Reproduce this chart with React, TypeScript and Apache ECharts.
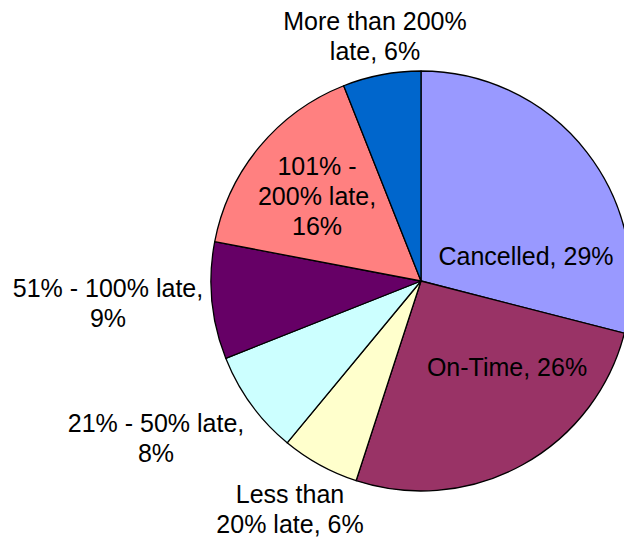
import React, { useEffect, useRef } from "react";
import * as echarts from "echarts";

const categories = [
  "Cancelled",
  "On-Time",
  "Less than 20% late",
  "21% - 50% late",
  "51% - 100% late",
  "101% - 200% late",
  "More than 200% late",
];
const values = [29, 26, 6, 8, 9, 16, 6];
const colors = ["#9999FF", "#993366", "#FFFFCC", "#CCFFFF", "#660066", "#FF8080", "#0066CC"];
const labelTemplates = [
  "Cancelled, {v}%",
  "On-Time, {v}%",
  "Less than\n20% late, {v}%",
  "21% - 50% late,\n{v}%",
  "51% - 100% late,\n{v}%",
  "101% -\n200% late,\n{v}%",
  "More than 200%\nlate, {v}%",
];
const labelX = [526, 507, 290, 156, 108, 317, 375];
const labelY = [256, 367, 509, 438, 303, 196, 36];

export default function App() {
  const ref = useRef<HTMLDivElement>(null);
  useEffect(() => {
    if (!ref.current) return;
    const chart = echarts.init(ref.current, undefined, { renderer: "svg" });
    chart.setOption({
      animation: false,
      backgroundColor: "#ffffff",
      series: [
        {
          type: "pie",
          center: [421, 281],
          radius: [0, 210],
          startAngle: 90,
          clockwise: true,
          avoidLabelOverlap: false,
          itemStyle: { borderColor: "#000000", borderWidth: 1.3 },
          label: {
            show: true,
            position: "inside",
            color: "#000000",
            fontFamily: "Liberation Sans, Arial, sans-serif",
            fontSize: 25,
            lineHeight: 30,
            align: "center",
            formatter: (p: any) => labelTemplates[p.dataIndex].replace("{v}", String(p.value)),
          },
          labelLine: { show: false },
          labelLayout: (p: any) => ({
            x: labelX[p.dataIndex],
            y: labelY[p.dataIndex],
            align: "center",
            verticalAlign: "middle",
          }),
          emphasis: { disabled: true },
          data: categories.map((c, i) => ({
            name: c,
            value: values[i],
            itemStyle: { color: colors[i] },
          })),
        },
      ],
    });
    return () => chart.dispose();
  }, []);
  return (
    <div
      ref={ref}
      style={{ position: "fixed", left: 0, top: 0, width: 624, height: 537 }}
    />
  );
}
